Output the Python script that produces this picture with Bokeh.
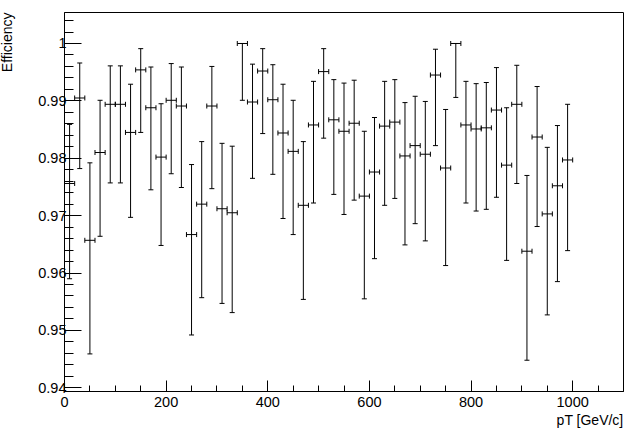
from bokeh.plotting import figure
from bokeh.models import (ColumnDataSource, Range1d, FixedTicker, PrintfTickFormatter,
                          Whisker, TeeHead, Title)
from bokeh.embed import file_html
from bokeh.resources import INLINE

# bin centres (pT, GeV/c) and half-widths
pt = [10, 30, 50, 70, 90, 110, 130, 150, 170, 190,
      210, 230, 250, 270, 290, 310, 330, 350, 370, 390,
      410, 430, 450, 470, 490, 510, 530, 550, 570, 590,
      610, 630, 650, 670, 690, 710, 730, 750, 770, 790,
      810, 830, 850, 870, 890, 910, 930, 950, 970, 990]
pt_err = [10] * 50

eff = [0.9756, 0.9905, 0.9657, 0.9810, 0.9894, 0.9894, 0.9845, 0.9954, 0.9888, 0.9802,
       0.9901, 0.9891, 0.9667, 0.9720, 0.9891, 0.9712, 0.9705, 1.0000, 0.9898, 0.9952,
       0.9902, 0.9844, 0.9812, 0.9718, 0.9858, 0.9951, 0.9867, 0.9847, 0.9861, 0.9734,
       0.9776, 0.9856, 0.9863, 0.9804, 0.9822, 0.9807, 0.9945, 0.9783, 1.0000, 0.9858,
       0.9851, 0.9853, 0.9884, 0.9788, 0.9894, 0.9638, 0.9837, 0.9703, 0.9752, 0.9797]
eff_hi = [0.9859, 0.9966, 0.9792, 0.9901, 0.9961, 0.9961, 0.9929, 0.9991, 0.9959, 0.9895,
          0.9965, 0.9959, 0.9789, 0.9829, 0.9960, 0.9826, 0.9821, 1.0000, 0.9964, 0.9991,
          0.9963, 0.9929, 0.9901, 0.9829, 0.9934, 0.9991, 0.9937, 0.9931, 0.9936, 0.9847,
          0.9871, 0.9934, 0.9937, 0.9897, 0.9908, 0.9899, 0.9990, 0.9885, 1.0000, 0.9934,
          0.9930, 0.9932, 0.9958, 0.9888, 0.9962, 0.9770, 0.9925, 0.9819, 0.9857, 0.9894]
eff_lo = [0.9590, 0.9782, 0.9459, 0.9664, 0.9757, 0.9757, 0.9697, 0.9845, 0.9745, 0.9648,
          0.9773, 0.9749, 0.9492, 0.9557, 0.9747, 0.9547, 0.9531, 0.9901, 0.9765, 0.9843,
          0.9772, 0.9695, 0.9667, 0.9554, 0.9722, 0.9835, 0.9737, 0.9702, 0.9727, 0.9555,
          0.9625, 0.9718, 0.9730, 0.9649, 0.9686, 0.9656, 0.9822, 0.9613, 0.9906, 0.9722,
          0.9708, 0.9711, 0.9732, 0.9622, 0.9756, 0.9448, 0.9681, 0.9527, 0.9585, 0.9639]

y_major = [0.94, 0.95, 0.96, 0.97, 0.98, 0.99, 1.00]
y_minor = [round(0.94 + 0.002 * i, 3) for i in range(33)]
x_major = [0, 200, 400, 600, 800, 1000]
x_minor = [50 * i for i in range(23)]

x_title = "pT [GeV/c]"
y_title = "Efficiency"

FONT = "Liberation Sans"

src = ColumnDataSource(dict(
    x=pt, y=eff, hi=eff_hi, lo=eff_lo,
    xl=[a - b for a, b in zip(pt, pt_err)],
    xr=[a + b for a, b in zip(pt, pt_err)],
))

p = figure(width=641, height=434, output_backend="svg", toolbar_location=None,
           x_range=Range1d(0, 1100), y_range=Range1d(0.93935, 1.0054),
           min_border_left=64, min_border_right=18, min_border_top=12, min_border_bottom=43)
p.background_fill_color = "white"
p.border_fill_color = "white"
p.outline_line_color = "black"
p.outline_line_width = 1
p.grid.visible = False

for ax in (p.xaxis[0], p.yaxis[0]):
    ax.axis_line_color = "black"
    ax.major_tick_line_color = "black"
    ax.minor_tick_line_color = "black"
    ax.major_tick_out = 0
    ax.minor_tick_out = 0
    ax.major_label_text_font = FONT
    ax.major_label_text_font_size = "14.5px"
    ax.major_label_text_color = "black"

p.xaxis[0].ticker = FixedTicker(ticks=x_major, minor_ticks=x_minor)
p.xaxis[0].major_tick_in = 11
p.xaxis[0].minor_tick_in = 6
p.xaxis[0].major_label_standoff = 5

p.yaxis[0].ticker = FixedTicker(ticks=y_major, minor_ticks=y_minor)
p.yaxis[0].formatter = PrintfTickFormatter(format="%g")
p.yaxis[0].major_tick_in = 17
p.yaxis[0].minor_tick_in = 9
p.yaxis[0].major_label_standoff = -2

# vertical (asymmetric) error bars
p.add_layout(Whisker(source=src, base="x", upper="hi", lower="lo", dimension="height",
                     line_color="black", line_width=1,
                     upper_head=TeeHead(size=5, line_color="black", line_width=1),
                     lower_head=TeeHead(size=5, line_color="black", line_width=1)))
# horizontal (bin width) error bars
p.add_layout(Whisker(source=src, base="y", upper="xr", lower="xl", dimension="width",
                     line_color="black", line_width=1,
                     upper_head=TeeHead(size=5, line_color="black", line_width=1),
                     lower_head=TeeHead(size=5, line_color="black", line_width=1)))

p.add_layout(Title(text=x_title, align="right", text_font=FONT, text_font_size="14px",
                   text_font_style="normal", text_color="black", standoff=0), "below")
# spacer between the y tick labels and the y title
p.add_layout(Title(text=" ", text_font_size="1px", standoff=18), "left")
p.add_layout(Title(text=y_title, align="right", text_font=FONT, text_font_size="14px",
                   text_font_style="normal", text_color="black", standoff=-4,
                   vertical_align="top"), "left")

open("out.html", "w").write(file_html(p, INLINE))
